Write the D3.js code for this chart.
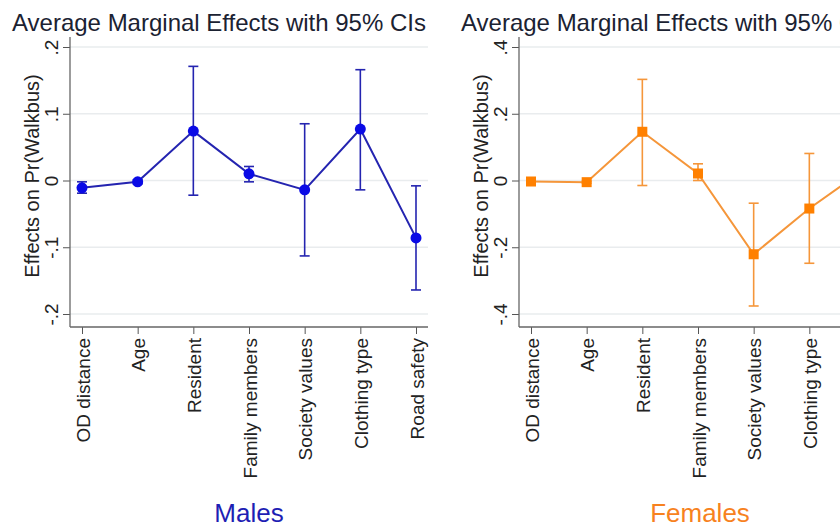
<!DOCTYPE html>
<html>
<head>
<meta charset="utf-8">
<script src="https://cdn.jsdelivr.net/npm/d3@7"></script>
<style>
  html, body { margin: 0; padding: 0; background: #fff; }
  svg { display: block; font-family: "Liberation Sans", Arial, sans-serif; }
</style>
</head>
<body>
<svg id="chart" width="840" height="528"></svg>
<script>
const categories = ["OD distance", "Age", "Resident", "Family members", "Society values", "Clothing type", "Road safety"];

const maleEffect = [-0.011, -0.002, 0.074, 0.010, -0.014, 0.077, -0.086];
const maleLower  = [-0.019, -0.005, -0.022, -0.002, -0.113, -0.014, -0.164];
const maleUpper  = [-0.002, 0.001, 0.171, 0.021, 0.085, 0.166, -0.008];

const femaleEffect = [-0.003, -0.005, 0.146, 0.021, -0.221, -0.084, 0.035];
const femaleLower  = [-0.006, -0.008, -0.015, 0.000, -0.376, -0.248, -0.060];
const femaleUpper  = [0.000, -0.002, 0.303, 0.050, -0.068, 0.081, 0.130];

const maleTicks = [-0.2, -0.1, 0, 0.1, 0.2];
const maleTickLabels = ["-.2", "-.1", "0", ".1", ".2"];
const femaleTicks = [-0.4, -0.2, 0, 0.2, 0.4];
const femaleTickLabels = ["-.4", "-.2", "0", ".2", ".4"];

const titleText = "Average Marginal Effects with 95% CIs";
const yLabel = "Effects on Pr(Walkbus)";

const svg = d3.select("#chart");

function drawPanel(o) {
  const g = svg.append("g");
  const top = 37, bottom = 327;
  const x = d3.scalePoint().domain(categories).range([o.x0 + 12, o.x0 + 346]);
  const y = d3.scaleLinear().domain([o.ticks[0], o.ticks[o.ticks.length - 1]]).range([314, 47]);

  // title
  g.append("text").attr("x", o.x0 - 58).attr("y", 31)
    .attr("font-size", 24).attr("fill", "#1b2232").text(titleText);

  // grid
  g.selectAll(".grid").data(o.ticks).enter().append("line")
    .attr("x1", o.x0).attr("x2", o.x0 + 358)
    .attr("y1", d => y(d)).attr("y2", d => y(d))
    .attr("stroke", "#e9ecee").attr("stroke-width", 1.5);

  // y axis
  const yAxis = d3.axisLeft(y).tickValues(o.ticks).tickSize(7)
    .tickFormat((d, i) => o.tickLabels[i]);
  const ya = g.append("g").attr("transform", `translate(${o.x0},0)`).call(yAxis);
  ya.select(".domain").remove();
  ya.selectAll(".tick line").attr("stroke", "#555");
  ya.selectAll(".tick text")
    .attr("font-size", 19).attr("fill", "#222")
    .attr("font-family", "Liberation Sans, Arial, sans-serif")
    .attr("text-anchor", "middle")
    .attr("x", null).attr("dy", null)
    .attr("transform", "translate(-12,0) rotate(-90)");
  g.append("line").attr("x1", o.x0).attr("x2", o.x0).attr("y1", top).attr("y2", bottom)
    .attr("stroke", "#666").attr("stroke-width", 1.3);

  // x axis
  const xAxis = d3.axisBottom(x).tickSize(7).tickFormat(d => d);
  const xa = g.append("g").attr("transform", `translate(0,${bottom})`).call(xAxis);
  xa.select(".domain").remove();
  xa.selectAll(".tick line").attr("stroke", "#555");
  xa.selectAll(".tick text")
    .attr("font-size", 19).attr("fill", "#222")
    .attr("font-family", "Liberation Sans, Arial, sans-serif")
    .attr("text-anchor", "end")
    .attr("y", null).attr("dy", null)
    .attr("transform", "translate(7,11) rotate(-90)");
  g.append("line").attr("x1", o.x0).attr("x2", o.x0 + 358).attr("y1", bottom).attr("y2", bottom)
    .attr("stroke", "#666").attr("stroke-width", 1.3);

  // y label
  g.append("text")
    .attr("transform", `translate(${o.x0 - 31},${(top + bottom) / 2 - 6}) rotate(-90)`)
    .attr("text-anchor", "middle").attr("font-size", 20).attr("fill", "#222")
    .text(yLabel);

  const data = categories.map((c, i) => ({c, v: o.eff[i], lo: o.lo[i], hi: o.hi[i]}));

  // CIs
  const ci = g.append("g").attr("stroke", o.lineColor).attr("stroke-width", 1.6);
  ci.selectAll(".v").data(data).enter().append("line")
    .attr("x1", d => x(d.c)).attr("x2", d => x(d.c))
    .attr("y1", d => y(d.lo)).attr("y2", d => y(d.hi));
  ci.selectAll(".t").data(data).enter().append("line")
    .attr("x1", d => x(d.c) - 5).attr("x2", d => x(d.c) + 5)
    .attr("y1", d => y(d.hi)).attr("y2", d => y(d.hi));
  ci.selectAll(".b").data(data).enter().append("line")
    .attr("x1", d => x(d.c) - 5).attr("x2", d => x(d.c) + 5)
    .attr("y1", d => y(d.lo)).attr("y2", d => y(d.lo));

  // connecting line
  g.append("path").datum(data)
    .attr("d", d3.line().x(d => x(d.c)).y(d => y(d.v)))
    .attr("fill", "none").attr("stroke", o.lineColor).attr("stroke-width", 2);

  // markers
  if (o.shape === "circle") {
    g.selectAll(".m").data(data).enter().append("circle")
      .attr("cx", d => x(d.c)).attr("cy", d => y(d.v)).attr("r", 5.5)
      .attr("fill", o.markColor);
  } else {
    g.selectAll(".m").data(data).enter().append("rect")
      .attr("x", d => x(d.c) - 5).attr("y", d => y(d.v) - 5)
      .attr("width", 10).attr("height", 10)
      .attr("fill", o.markColor);
  }

  // subtitle
  g.append("text").attr("x", o.subX).attr("y", 522).attr("text-anchor", "middle")
    .attr("font-size", 26).attr("fill", o.subColor).text(o.sub);
}

drawPanel({x0: 70, eff: maleEffect, lo: maleLower, hi: maleUpper,
  ticks: maleTicks, tickLabels: maleTickLabels,
  lineColor: "#2424b0", markColor: "#0a0ae6", shape: "circle",
  sub: "Males", subX: 249, subColor: "#1e1eb4"});

drawPanel({x0: 519, eff: femaleEffect, lo: femaleLower, hi: femaleUpper,
  ticks: femaleTicks, tickLabels: femaleTickLabels,
  lineColor: "#f5963a", markColor: "#ff8000", shape: "square",
  sub: "Females", subX: 700, subColor: "#f7821e"});
</script>
</body>
</html>
